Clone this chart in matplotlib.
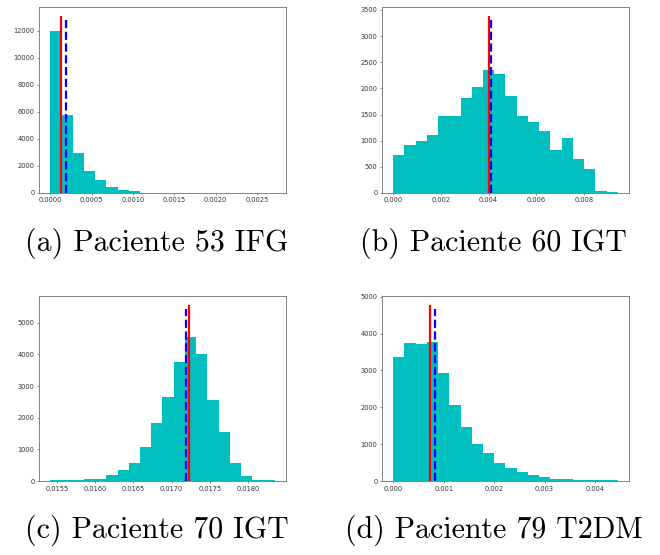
"""
Posterior histograms for four patients (IFG, IGT, IGT, T2DM).
Red solid line = one estimate, blue dashed line = the other.
"""

import matplotlib

matplotlib.use("Agg")
import matplotlib.pyplot as plt
import numpy as np
from matplotlib.ticker import FormatStrFormatter, MultipleLocator

# ---- data (20 bins per panel) ----
a_range = (0.0, 0.002716)
a_counts = [11990, 5800, 2975, 1630, 940, 430, 200, 125, 35, 30,
            25, 20, 15, 0, 0, 15, 0, 15, 0, 15]
a_red = (0.000134, 13100)
a_blue = (0.000195, 12800)

b_range = (0.0, 0.009425)
b_counts = [725, 911, 995, 1100, 1480, 1468, 1815, 2033, 2355, 2272,
            1855, 1480, 1360, 1194, 820, 1060, 648, 450, 38, 13]
b_red = (0.00403, 3386)
b_blue = (0.00410, 3330)

c_range = (0.01541, 0.01835)
c_counts = [20, 20, 30, 50, 75, 180, 340, 580, 1085, 1840,
            2650, 3770, 4540, 4020, 2560, 1560, 575, 160, 22, 22]
c_red = (0.017224, 5567)
c_blue = (0.017188, 5441)

d_range = (0.0, 0.00445)
d_counts = [3370, 3745, 3718, 3763, 2938, 2070, 1478, 1000, 753, 502,
            341, 233, 161, 98, 62, 55, 40, 40, 35, 30]
d_red = (0.00072, 4777)
d_blue = (0.00082, 4670)

captions = ["(a) Paciente 53 IFG", "(b) Paciente 60 IGT",
            "(c) Paciente 70 IGT", "(d) Paciente 79 T2DM"]

panels = [
    # data, axes rect, x step, x fmt, y step
    ((a_range, a_counts, a_red, a_blue), [0.0591, 0.6523, 0.3742, 0.3351], 0.0005, "%.4f", 2000),
    ((b_range, b_counts, b_red, b_blue), [0.5788, 0.6523, 0.3742, 0.3351], 0.002, "%.3f", 500),
    ((c_range, c_counts, c_red, c_blue), [0.0591, 0.1333, 0.3742, 0.3333], 0.0005, "%.4f", 1000),
    ((d_range, d_counts, d_red, d_blue), [0.5788, 0.1333, 0.3742, 0.3333], 0.001, "%.3f", 1000),
]
caption_pos = [(0.237, 0.562), (0.748, 0.562), (0.237, 0.045), (0.748, 0.045)]

fig = plt.figure(figsize=(6.6, 5.55), dpi=100)

for (data, rect, xstep, xfmt, ystep) in panels:
    (lo, hi), counts, red, blue = data
    edges = np.linspace(lo, hi, len(counts) + 1)
    ax = fig.add_axes(rect)
    ax.hist(edges[:-1], bins=edges, weights=counts, color="c")
    ax.vlines(blue[0], 0, blue[1], colors="b", linestyles="--", linewidth=1.6, zorder=3)
    ax.vlines(red[0], 0, red[1], colors="r", linewidth=1.6, zorder=4)

    ax.xaxis.set_major_locator(MultipleLocator(xstep))
    ax.xaxis.set_major_formatter(FormatStrFormatter(xfmt))
    ax.yaxis.set_major_locator(MultipleLocator(ystep))
    ax.tick_params(labelsize=4.8, length=1.75, width=0.4, pad=1.5,
                   colors="#333333")
    for sp in ax.spines.values():
        sp.set_linewidth(0.5)
        sp.set_color("#555555")

for (x, y), text in zip(caption_pos, captions):
    fig.text(x, y, text, ha="center", va="center", fontsize=21.5, family="cmr10")

fig.savefig("out.png", dpi=100)
